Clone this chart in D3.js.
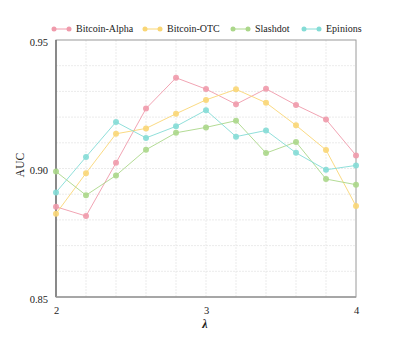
<!DOCTYPE html>
<html>
<head>
<meta charset="utf-8">
<script src="https://cdn.jsdelivr.net/npm/d3@7"></script>
<style>
  html, body { margin: 0; padding: 0; background: #ffffff; }
  svg { display: block; }
</style>
</head>
<body>
<svg id="chart" width="403" height="353"></svg>
<script>
const lambdas = [2.0, 2.2, 2.4, 2.6, 2.8, 3.0, 3.2, 3.4, 3.6, 3.8, 4.0];
const seriesNames = ["Bitcoin-Alpha", "Bitcoin-OTC", "Slashdot", "Epinions"];
const bitcoinAlpha = [0.8851, 0.8815, 0.9022, 0.9233, 0.9353, 0.9309, 0.9250, 0.9310, 0.9247, 0.9191, 0.9051];
const bitcoinOTC   = [0.8824, 0.8982, 0.9135, 0.9156, 0.9213, 0.9267, 0.9308, 0.9256, 0.9168, 0.9072, 0.8854];
const slashdot     = [0.8988, 0.8896, 0.8973, 0.9073, 0.9139, 0.9160, 0.9186, 0.9060, 0.9103, 0.8959, 0.8937];
const epinions     = [0.8907, 0.9045, 0.9181, 0.9119, 0.9164, 0.9227, 0.9124, 0.9148, 0.9061, 0.8995, 0.9012];
const yTicks = [0.85, 0.90, 0.95];
const xTicks = [2, 3, 4];
const colors = ["#f09aab", "#f9d675", "#abd78a", "#84dcd6"];

const allSeries = [bitcoinAlpha, bitcoinOTC, slashdot, epinions];
const FONT = "'Liberation Serif', 'Times New Roman', serif";

const svg = d3.select("#chart");
const mLeft = 56, mRight = 356, mTop = 40, mBottom = 297;

const x = d3.scaleLinear().domain([2, 4]).range([mLeft, mRight]);
const y = d3.scaleLinear().domain([0.85, 0.95]).range([mBottom, mTop]);

// grid
const g = svg.append("g");
g.selectAll("line.hg").data(d3.range(0.86, 0.9499, 0.01)).enter().append("line")
  .attr("x1", mLeft).attr("x2", mRight)
  .attr("y1", d => y(d)).attr("y2", d => y(d))
  .attr("stroke", "#e6e6e6").attr("stroke-width", 0.8).attr("stroke-dasharray", "2,1");
g.selectAll("line.vg").data(lambdas.slice(1, -1)).enter().append("line")
  .attr("y1", mTop).attr("y2", mBottom)
  .attr("x1", d => x(d)).attr("x2", d => x(d))
  .attr("stroke", "#e6e6e6").attr("stroke-width", 0.8).attr("stroke-dasharray", "2,1");

// box
svg.append("rect").attr("x", mLeft).attr("y", mTop)
  .attr("width", mRight - mLeft).attr("height", mBottom - mTop)
  .attr("fill", "none").attr("stroke", "#9a9a9a").attr("stroke-width", 1);
svg.append("line").attr("x1", mLeft).attr("x2", mLeft).attr("y1", mTop).attr("y2", mBottom)
  .attr("stroke", "#666").attr("stroke-width", 1.3);
svg.append("line").attr("x1", mLeft).attr("x2", mRight).attr("y1", mBottom).attr("y2", mBottom)
  .attr("stroke", "#9a9a9a").attr("stroke-width", 1.3);

// axes
const yAxis = d3.axisLeft(y).tickValues(yTicks).tickSize(0).tickPadding(8).tickFormat(d3.format(".2f"));
const ya = svg.append("g").attr("transform", `translate(${mLeft},0)`).call(yAxis);
ya.select(".domain").remove();
ya.selectAll("text").attr("dy", "0.52em")
  .style("font-size", "10.5px").style("font-family", FONT).style("fill", "#222");

const xAxis = d3.axisBottom(x).tickValues(xTicks).tickSize(0).tickPadding(10).tickFormat(d3.format("d"));
const xa = svg.append("g").attr("transform", `translate(0,${mBottom})`).call(xAxis);
xa.select(".domain").remove();
xa.selectAll("text").style("font-size", "10.5px").style("font-family", FONT).style("fill", "#222");

svg.append("text").attr("x", (mLeft + mRight) / 2 - 1).attr("y", 328)
  .attr("text-anchor", "middle")
  .style("font-size", "12px").style("font-weight", "bold").style("font-style", "italic")
  .style("font-family", FONT).style("fill", "#222")
  .text("λ");
svg.append("text").attr("transform", `translate(24,165) rotate(-90)`)
  .attr("text-anchor", "middle")
  .style("font-size", "11.5px").style("font-family", FONT).style("fill", "#222")
  .text("AUC");

// series
const line = d3.line().x((d, i) => x(lambdas[i])).y(d => y(d));
allSeries.forEach((s, k) => {
  svg.append("path").datum(s).attr("d", line)
    .attr("fill", "none").attr("stroke", colors[k]).attr("stroke-width", 1).attr("opacity", 0.9);
  svg.selectAll(null).data(s).enter().append("circle")
    .attr("cx", (d, i) => x(lambdas[i])).attr("cy", d => y(d)).attr("r", 3)
    .attr("fill", colors[k]).attr("opacity", 0.9);
});

// legend
const legendX = [54, 145, 233, 304];
const lg = svg.append("g");
seriesNames.forEach((name, k) => {
  const lx = legendX[k], ly = 29;
  lg.append("line").attr("x1", lx).attr("x2", lx + 15).attr("y1", ly).attr("y2", ly)
    .attr("stroke", colors[k]).attr("stroke-width", 1);
  lg.append("circle").attr("cx", lx).attr("cy", ly).attr("r", 2.5).attr("fill", colors[k]);
  lg.append("circle").attr("cx", lx + 15).attr("cy", ly).attr("r", 2.5).attr("fill", colors[k]);
  lg.append("text").attr("x", lx + 22).attr("y", ly).attr("dy", "0.32em")
    .style("font-size", "10px").style("font-family", FONT).style("fill", "#222")
    .text(name);
});
</script>
</body>
</html>
